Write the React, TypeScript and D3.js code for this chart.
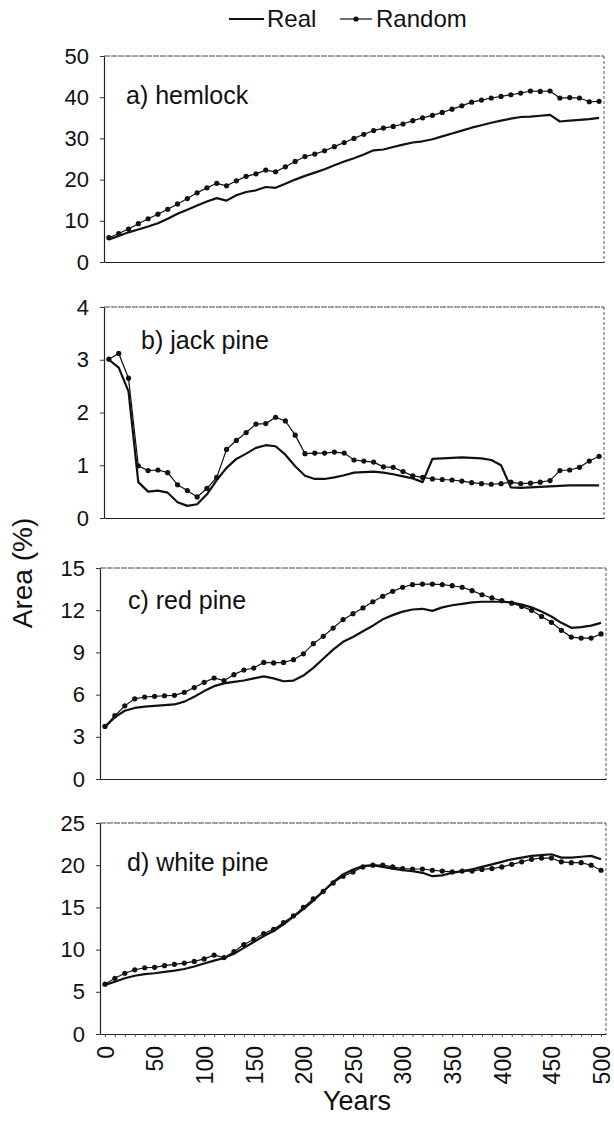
import { useEffect, useRef } from 'react';
import * as d3 from 'd3';

// simulation years (one value every 10 years)
const years = [
  0, 10, 20, 30, 40, 50, 60, 70, 80, 90,
  100, 110, 120, 130, 140, 150, 160, 170, 180, 190,
  200, 210, 220, 230, 240, 250, 260, 270, 280, 290,
  300, 310, 320, 330, 340, 350, 360, 370, 380, 390,
  400, 410, 420, 430, 440, 450, 460, 470, 480, 490, 500
];

const hemlockReal = [
  5.5, 6.3, 7.2, 7.9, 8.6, 9.4, 10.5, 11.7, 12.7, 13.7,
  14.7, 15.5, 14.9, 16.2, 17.0, 17.4, 18.2, 18.0, 19.0, 20.0,
  20.9, 21.7, 22.5, 23.5, 24.4, 25.2, 26.1, 27.1, 27.3, 27.9,
  28.5, 29.0, 29.3, 29.8, 30.5, 31.2, 31.9, 32.6, 33.2, 33.8,
  34.3, 34.8, 35.2, 35.3, 35.5, 35.7, 34.1, 34.3, 34.5, 34.7, 35.0
];
const hemlockRandom = [
  5.9, 6.9, 8.0, 9.3, 10.5, 11.6, 12.8, 14.1, 15.4, 16.8,
  18.0, 19.1, 18.5, 19.7, 20.8, 21.4, 22.3, 21.9, 23.1, 24.4,
  25.6, 26.2, 27.0, 28.0, 29.0, 30.0, 31.0, 31.9, 32.5, 32.9,
  33.5, 34.3, 35.0, 35.6, 36.3, 37.1, 37.9, 38.8, 39.3, 39.8,
  40.2, 40.6, 41.0, 41.5, 41.4, 41.5, 39.8, 39.9, 39.8, 38.9, 39.0
];

const jackPineReal = [
  3.0, 2.85, 2.4, 0.68, 0.5, 0.52, 0.48, 0.3, 0.23, 0.26,
  0.45, 0.72, 0.95, 1.12, 1.22, 1.33, 1.38, 1.36, 1.2, 0.98,
  0.8, 0.74, 0.74, 0.77, 0.81, 0.86, 0.87, 0.88, 0.86, 0.83,
  0.79, 0.75, 0.68, 1.12, 1.13, 1.14, 1.15, 1.14, 1.13, 1.1,
  1.0, 0.58, 0.57, 0.58, 0.59, 0.6, 0.61, 0.62, 0.62, 0.62, 0.62
];
const jackPineRandom = [
  3.01, 3.12, 2.65, 0.99, 0.9, 0.91, 0.86, 0.63, 0.52, 0.4,
  0.56, 0.77, 1.3, 1.47, 1.62, 1.78, 1.79, 1.91, 1.84, 1.57,
  1.22, 1.23, 1.23, 1.25, 1.23, 1.1, 1.08, 1.06, 0.97, 0.96,
  0.88, 0.8, 0.77, 0.74, 0.73, 0.72, 0.7, 0.67, 0.65, 0.64,
  0.65, 0.68, 0.65, 0.66, 0.68, 0.71, 0.9, 0.91, 0.96, 1.08, 1.17
];

const redPineReal = [
  3.7, 4.4, 4.85, 5.05, 5.15, 5.2, 5.25, 5.3, 5.5, 5.85,
  6.25, 6.6, 6.8, 6.9, 7.0, 7.15, 7.3, 7.15, 6.95, 7.0,
  7.35, 7.9, 8.55, 9.2, 9.75, 10.1, 10.5, 10.9, 11.35, 11.65,
  11.9, 12.05, 12.1, 11.95, 12.2, 12.35, 12.45, 12.55, 12.6, 12.6,
  12.6, 12.55, 12.4, 12.2, 11.9, 11.55, 11.1, 10.75, 10.8, 10.9, 11.1
];
const redPineRandom = [
  3.74, 4.5, 5.2, 5.7, 5.83, 5.88, 5.92, 5.95, 6.16, 6.5,
  6.87, 7.18, 6.99, 7.42, 7.75, 7.89, 8.29, 8.25, 8.29, 8.48,
  8.9, 9.62, 10.14, 10.73, 11.33, 11.75, 12.16, 12.6, 12.99, 13.34,
  13.63, 13.82, 13.86, 13.86, 13.82, 13.74, 13.63, 13.39, 13.1, 12.87,
  12.68, 12.5, 12.27, 11.99, 11.56, 11.14, 10.57, 10.09, 10.02, 10.02, 10.31
];

const whitePineReal = [
  5.8, 6.2, 6.6, 6.9, 7.1, 7.2, 7.35, 7.5, 7.7, 8.0,
  8.35, 8.7, 9.0, 9.5, 10.2, 10.9, 11.6, 12.2, 13.0, 13.9,
  14.8, 15.8, 16.9, 18.0, 18.9, 19.5, 19.9, 20.0, 19.8, 19.6,
  19.4, 19.3, 19.1, 18.7, 18.8, 19.1, 19.3, 19.5, 19.8, 20.1,
  20.4, 20.7, 20.9, 21.1, 21.2, 21.3, 20.9, 20.9, 21.0, 21.1, 20.7
];
const whitePineRandom = [
  5.9, 6.6, 7.2, 7.6, 7.85, 7.9, 8.1, 8.25, 8.4, 8.6,
  8.9, 9.35, 9.05, 9.75, 10.6, 11.2, 11.9, 12.4, 13.2, 14.0,
  15.0, 16.0, 16.9, 17.9, 18.7, 19.2, 19.8, 20.0, 20.0, 19.8,
  19.6, 19.55, 19.55, 19.4, 19.3, 19.2, 19.3, 19.3, 19.5, 19.6,
  19.8, 20.1, 20.4, 20.7, 20.85, 20.85, 20.4, 20.3, 20.3, 20.0, 19.4
];

const hemlockTicks = [0, 10, 20, 30, 40, 50];
const jackPineTicks = [0, 1, 2, 3, 4];
const redPineTicks = [0, 3, 6, 9, 12, 15];
const whitePineTicks = [0, 5, 10, 15, 20, 25];
const yearLabels = [0, 50, 100, 150, 200, 250, 300, 350, 400, 450, 500];

const FONT = '"Liberation Sans", Arial, Helvetica, sans-serif';
const W = 614;
const H = 1137;

export default function App() {
  const svgRef = useRef(null);

  useEffect(() => {
    const svg = d3.select(svgRef.current);
    svg.selectAll('*').remove();

    const panels = [
      { title: 'a) hemlock', real: hemlockReal, random: hemlockRandom, ticks: hemlockTicks,
        top: 56, bottom: 262, left: 104, right: 604, titleX: 126, titleY: 104 },
      { title: 'b) jack pine', real: jackPineReal, random: jackPineRandom, ticks: jackPineTicks,
        top: 307, bottom: 518, left: 104, right: 604, titleX: 141, titleY: 349 },
      { title: 'c) red pine', real: redPineReal, random: redPineRandom, ticks: redPineTicks,
        top: 568, bottom: 779, left: 100, right: 606, titleX: 128, titleY: 609 },
      { title: 'd) white pine', real: whitePineReal, random: whitePineRandom, ticks: whitePineTicks,
        top: 823, bottom: 1034, left: 100, right: 606, titleX: 127, titleY: 871 }
    ];

    panels.forEach((p, idx) => {
      const x = d3.scalePoint<number>()
        .domain(years)
        .range([p.left, p.right])
        .padding(0.5);

      const y = d3.scaleLinear()
        .domain([0, d3.max(p.ticks) as number])
        .range([p.bottom, p.top]);

      const g = svg.append('g');

      // top and right frame (faint, scanned look)
      g.append('line')
        .attr('x1', p.left).attr('x2', p.right)
        .attr('y1', p.top).attr('y2', p.top)
        .attr('stroke', '#444')
        .attr('stroke-width', 1)
        .attr('stroke-dasharray', '6,1');
      g.append('line')
        .attr('x1', p.right).attr('x2', p.right)
        .attr('y1', p.top).attr('y2', p.bottom)
        .attr('stroke', '#555')
        .attr('stroke-width', 1)
        .attr('stroke-dasharray', '3,2');

      const yAxis = g.append('g')
        .attr('transform', `translate(${p.left},0)`)
        .call(d3.axisLeft(y)
          .tickValues(p.ticks)
          .tickFormat(d3.format('d'))
          .tickSize(4)
          .tickSizeOuter(0)
          .tickPadding(11));
      yAxis.select('.domain').attr('stroke', '#222').attr('stroke-width', 1.2);
      yAxis.selectAll('.tick line').attr('stroke', '#333');
      yAxis.selectAll('text')
        .attr('fill', '#111')
        .style('font-family', FONT)
        .style('font-size', '22px');

      const xAxis = g.append('g')
        .attr('transform', `translate(0,${p.bottom})`)
        .call(d3.axisBottom(x)
          .tickValues(idx === 3 ? years : [])
          .tickSize(3)
          .tickSizeOuter(0)
          .tickFormat(() => ''));
      xAxis.select('.domain').attr('stroke', '#222').attr('stroke-width', 1.2);
      xAxis.selectAll('.tick line').attr('stroke', '#555');

      if (idx === 3) {
        const labels = g.append('g')
          .attr('transform', `translate(0,${p.bottom})`)
          .call(d3.axisBottom(x).tickValues(yearLabels).tickSize(0).tickSizeOuter(0));
        labels.select('.domain').remove();
        labels.selectAll('text')
          .attr('x', -12)
          .attr('y', 0)
          .attr('dy', '0.36em')
          .attr('transform', 'rotate(-90)')
          .attr('text-anchor', 'end')
          .attr('fill', '#111')
          .style('font-family', FONT)
          .style('font-size', '23px');
      }

      const seriesLine = d3.line<number>()
        .x((d, i) => x(years[i]) as number)
        .y(d => y(d));

      g.append('path')
        .datum(p.random)
        .attr('d', seriesLine)
        .attr('fill', 'none')
        .attr('stroke', '#111')
        .attr('stroke-width', 1.2);

      g.selectAll('circle.pt')
        .data(p.random)
        .join('circle')
        .attr('class', 'pt')
        .attr('cx', (d, i) => x(years[i]) as number)
        .attr('cy', d => y(d))
        .attr('r', 2.6)
        .attr('fill', '#111');

      g.append('path')
        .datum(p.real)
        .attr('d', seriesLine)
        .attr('fill', 'none')
        .attr('stroke', '#111')
        .attr('stroke-width', 2.2)
        .attr('stroke-linejoin', 'round');

      g.append('text')
        .attr('x', p.titleX)
        .attr('y', p.titleY)
        .attr('fill', '#111')
        .style('font-family', FONT)
        .style('font-size', '25px')
        .text(p.title);
    });

    // legend
    const legend = svg.append('g').attr('transform', 'translate(0,19)');
    legend.append('line')
      .attr('x1', 229).attr('x2', 264)
      .attr('y1', 0).attr('y2', 0)
      .attr('stroke', '#111').attr('stroke-width', 2);
    legend.append('text')
      .attr('x', 267).attr('y', 8)
      .attr('fill', '#111')
      .style('font-family', FONT)
      .style('font-size', '24px')
      .text('Real');
    legend.append('line')
      .attr('x1', 340).attr('x2', 372)
      .attr('y1', 0).attr('y2', 0)
      .attr('stroke', '#111').attr('stroke-width', 1.2);
    legend.append('circle')
      .attr('cx', 356).attr('cy', 0).attr('r', 2.6)
      .attr('fill', '#111');
    legend.append('text')
      .attr('x', 376).attr('y', 8)
      .attr('fill', '#111')
      .style('font-family', FONT)
      .style('font-size', '24px')
      .text('Random');

    // axis titles
    svg.append('text')
      .attr('transform', 'translate(32,573) rotate(-90)')
      .attr('text-anchor', 'middle')
      .attr('fill', '#111')
      .style('font-family', FONT)
      .style('font-size', '28px')
      .text('Area (%)');

    svg.append('text')
      .attr('x', 357)
      .attr('y', 1110)
      .attr('text-anchor', 'middle')
      .attr('fill', '#111')
      .style('font-family', FONT)
      .style('font-size', '27px')
      .text('Years');
  }, []);

  return (
    <svg
      ref={svgRef}
      width={W}
      height={H}
      style={{ position: 'absolute', left: 0, top: 0, background: '#fff' }}
    ></svg>
  );
}
